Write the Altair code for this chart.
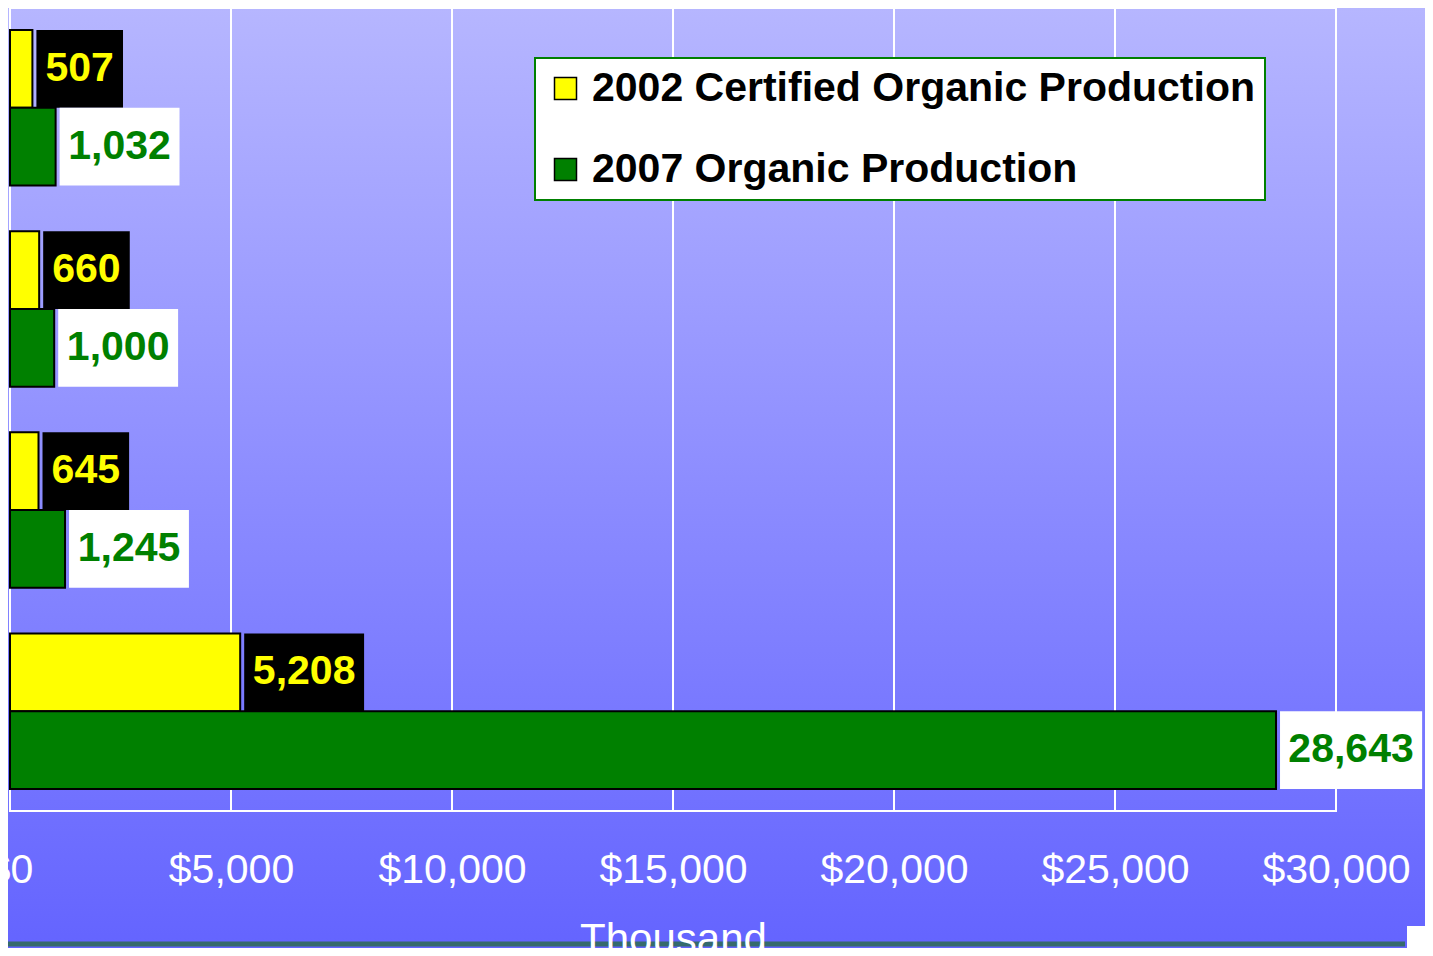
import altair as alt
import pandas as pd

# ---- data ----
categories = ["Group 1", "Group 2", "Group 3", "Group 4"]
series = ["2002 Certified Organic Production", "2007 Organic Production"]
values_2002 = [507, 660, 645, 5208]
values_2007 = [1032, 1000, 1245, 28643]
x_ticks = [0, 5000, 10000, 15000, 20000, 25000, 30000]
XMAX = 30000

# ---- layout ----
W, H = 1326, 803
TOTAL_W, TOTAL_H = 1417, 940
PAD_L, PAD_T = 2, 0
ppu = W / XMAX
FONT = "Liberation Sans"

rows = []
for c, a, b in zip(categories, values_2002, values_2007):
    rows.append({"cat": c, "series": series[0], "value": a})
    rows.append({"cat": c, "series": series[1], "value": b})
df = pd.DataFrame(rows)
df["label"] = df["value"].map(lambda v: f"{v:,}")


def text_w(s):
    return sum(11.1 if ch == "," else 22.2 for ch in s)


GAP, PADX = 4, 10
df["box_x"] = df["value"] + GAP / ppu
df["box_x2"] = df["value"] + (GAP + df["label"].map(text_w) + 2 * PADX) / ppu
df["text_x"] = (df["box_x"] + df["box_x2"]) / 2

ticks_df = pd.DataFrame({"t": x_ticks})
one = pd.DataFrame({"d": [0]})

y_enc = alt.Y("cat:N", sort=categories, axis=None,
              scale=alt.Scale(paddingInner=0.227, paddingOuter=0.11))
yoff_enc = alt.YOffset("series:N", sort=series,
                       scale=alt.Scale(paddingInner=0, paddingOuter=0))
x_scale = alt.Scale(domain=[0, XMAX], nice=False, zero=True)

is2002 = f"datum.series === '{series[0]}'"

background = alt.Chart(one).mark_rect(
    fill=alt.Gradient(
        gradient="linear",
        stops=[alt.GradientStop(color="#b6b6ff", offset=0),
               alt.GradientStop(color="#6464ff", offset=1)],
        x1=0, x2=0, y1=0, y2=1),
).encode(x=alt.value(-PAD_L), x2=alt.value(TOTAL_W), y=alt.value(-PAD_T), y2=alt.value(TOTAL_H))

grid = alt.Chart(ticks_df).mark_rule(color="white", strokeWidth=2).encode(
    x=alt.X("t:Q", scale=x_scale),
    y=alt.value(0), y2=alt.value(H))

frame = alt.Chart(one).mark_rect(fillOpacity=0, stroke="white", strokeWidth=2).encode(
    x=alt.value(0), x2=alt.value(W), y=alt.value(0), y2=alt.value(H))

bars = alt.Chart(df).mark_bar(stroke="black", strokeWidth=2).encode(
    x=alt.X("value:Q", scale=x_scale,
            axis=alt.Axis(values=x_ticks, format="$,.0f", labelFontSize=41,
                          labelColor="white", labelFont=FONT, grid=False,
                          domain=False, ticks=False, labelPadding=39,
                          labelFlush=False, labelOverlap=False, zindex=1,
                          title="Thousand", titleFontSize=42, titleFont=FONT,
                          titleFontWeight="normal", titleColor="white",
                          titlePadding=29)),
    y=y_enc,
    yOffset=yoff_enc,
    color=alt.Color("series:N", sort=series,
                    scale=alt.Scale(domain=series, range=["#ffff00", "#008000"]),
                    legend=alt.Legend(orient="none", legendX=525, legendY=50,
                                      title=None, fillColor="white",
                                      strokeColor="#008000",
                                      padding=10, symbolType="square",
                                      symbolSize=484, symbolStrokeColor="black",
                                      symbolStrokeWidth=1.5, labelFontSize=41,
                                      labelFont=FONT, labelFontWeight="bold",
                                      labelColor="black", rowPadding=39,
                                      labelLimit=1000, labelOffset=6)),
)

boxes = alt.Chart(df).mark_rect().encode(
    x=alt.X("box_x:Q", scale=x_scale),
    x2="box_x2:Q",
    y=y_enc,
    yOffset=yoff_enc,
    fill=alt.condition(is2002, alt.value("black"), alt.value("white")),
)

texts = alt.Chart(df).mark_text(font=FONT, fontSize=41, fontWeight="bold",
                                align="center", baseline="middle").encode(
    x=alt.X("text_x:Q", scale=x_scale),
    y=y_enc,
    yOffset=yoff_enc,
    text="label:N",
    color=alt.condition(is2002, alt.value("#ffff00"), alt.value("#008000")),
)

bottom_line = alt.Chart(one).mark_rule(color="#356a6c", strokeWidth=5).encode(
    x=alt.value(-PAD_L), x2=alt.value(1395), y=alt.value(936))

corner = alt.Chart(one).mark_rect(color="white").encode(
    x=alt.value(1397), x2=alt.value(TOTAL_W), y=alt.value(918), y2=alt.value(TOTAL_H))

chart = alt.layer(background, grid, frame, bars, boxes, texts, bottom_line, corner).properties(
    width=W, height=H,
    autosize=alt.AutoSizeParams(type="none"),
    padding={"left": PAD_L, "top": PAD_T, "right": TOTAL_W - W - PAD_L,
             "bottom": TOTAL_H - H - PAD_T},
    background="#6464ff",
).configure_view(stroke=None).configure_legend(strokeWidth=2)

chart.save("out.html", embed_options={"renderer": "svg", "actions": False})
